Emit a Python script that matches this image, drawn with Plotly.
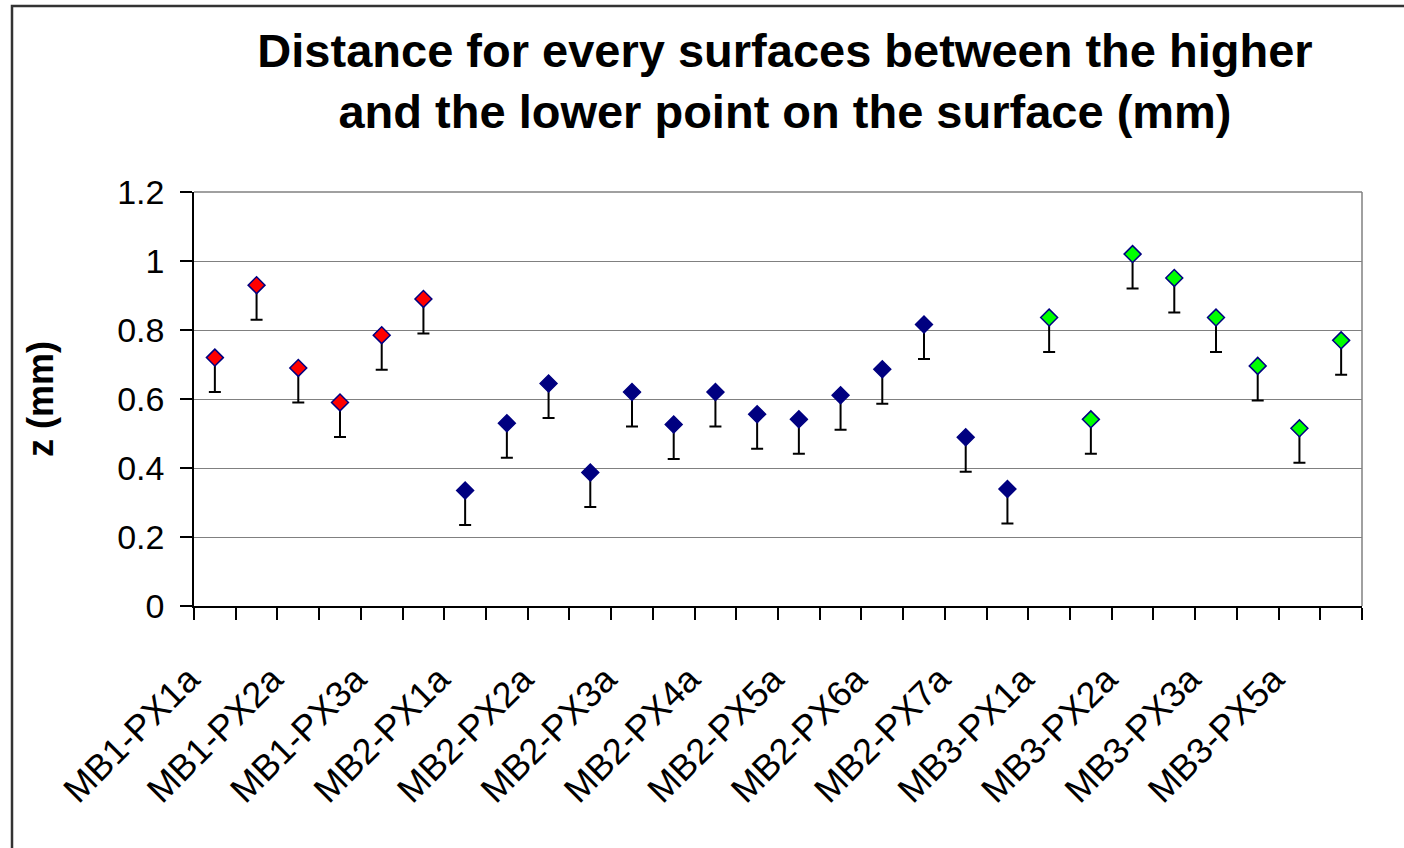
import plotly.graph_objects as go

# ---- data ----
mb1_categories = ["MB1-PX1a", "MB1-PX1b", "MB1-PX2a", "MB1-PX2b", "MB1-PX3a", "MB1-PX3b"]
mb2_categories = ["MB2-PX1a", "MB2-PX1b", "MB2-PX2a", "MB2-PX2b", "MB2-PX3a", "MB2-PX3b",
                  "MB2-PX4a", "MB2-PX4b", "MB2-PX5a", "MB2-PX5b", "MB2-PX6a", "MB2-PX6b",
                  "MB2-PX7a", "MB2-PX7b"]
mb3_categories = ["MB3-PX1a", "MB3-PX1b", "MB3-PX2a", "MB3-PX2b", "MB3-PX3a", "MB3-PX3b",
                  "MB3-PX5a", "MB3-PX5b"]

mb1_values = [0.72, 0.93, 0.69, 0.59, 0.785, 0.89]
mb2_values = [0.335, 0.53, 0.645, 0.387, 0.62, 0.526, 0.62, 0.556, 0.541, 0.611,
              0.686, 0.816, 0.489, 0.339]
mb3_values = [0.836, 0.541, 1.02, 0.951, 0.836, 0.696, 0.515, 0.77]

error_minus = 0.1

all_categories = mb1_categories + mb2_categories + mb3_categories
tick_labels = [c if i % 2 == 0 else "" for i, c in enumerate(all_categories)]
y_ticks = [0, 0.2, 0.4, 0.6, 0.8, 1, 1.2]

FONT = "Liberation Sans, Arial, sans-serif"

fig = go.Figure()

def add_series(cats, vals, fill):
    fig.add_trace(go.Scatter(
        x=cats, y=vals, mode="markers",
        marker=dict(symbol="diamond", size=13, color=fill,
                    line=dict(color="#000080", width=1.5)),
        error_y=dict(type="data", symmetric=False,
                     array=[0] * len(vals), arrayminus=[error_minus] * len(vals),
                     color="black", thickness=2, width=6),
        showlegend=False,
    ))

add_series(mb1_categories, mb1_values, "#FF0000")
add_series(mb2_categories, mb2_values, "#000080")
add_series(mb3_categories, mb3_values, "#00FF00")

W, H = 1404, 848
L, R, T, B = 194, 42, 192, 242
pw, ph = W - L - R, H - T - B

def px_x(px):
    return (px - L) / pw

def px_y(py):
    return (H - B - py) / ph

fig.update_layout(
    width=W, height=H,
    margin=dict(l=L, r=R, t=T, b=B, autoexpand=False),
    paper_bgcolor="white", plot_bgcolor="white",
    font=dict(family=FONT, color="black"),
    title=dict(
        text="<b>Distance for every surfaces between the higher<br>and the lower point on the surface (mm)</b>",
        font=dict(size=47, family=FONT, color="black"),
        x=785 / W, xref="container", xanchor="center",
        y=1 - 67 / H, yref="container", yanchor="top",
    ),
    xaxis=dict(
        type="category", categoryorder="array", categoryarray=all_categories,
        range=[-0.5, len(all_categories) - 0.5],
        tickmode="array", tickvals=all_categories, ticktext=tick_labels,
        tickson="boundaries", ticks="outside", ticklen=12, tickwidth=1.5, tickcolor="black",
        tickangle=-45, tickfont=dict(size=36, family=FONT, color="black"),
        ticklabelstandoff=36, ticklabelshift=-26,
        showgrid=False, showline=True, linecolor="black", linewidth=1.5,
        automargin=False, zeroline=False,
    ),
    yaxis=dict(
        range=[0, 1.2], tickmode="array", tickvals=y_ticks,
        ticks="outside", ticklen=12, tickwidth=1.5, tickcolor="black",
        tickfont=dict(size=34, family=FONT, color="black"),
        ticklabelstandoff=9,
        showgrid=True, gridcolor="#808080", gridwidth=1,
        showline=True, linecolor="black", linewidth=1.5, zeroline=False,
        automargin=False,
        title=dict(text="<b>z (mm)</b>", font=dict(size=36, family=FONT, color="black"),
                   standoff=53),
    ),
    shapes=[
        # outer chart border (right and bottom edges lie outside the picture)
        dict(type="rect", xref="paper", yref="paper",
             x0=px_x(12), x1=px_x(1600), y0=px_y(1000), y1=px_y(6),
             line=dict(color="#333333", width=2.5), fillcolor="rgba(0,0,0,0)", layer="below"),
        # plot area top & right border
        dict(type="line", xref="paper", yref="paper", x0=0, x1=1, y0=1, y1=1,
             line=dict(color="#808080", width=1.5)),
        dict(type="line", xref="paper", yref="paper", x0=1, x1=1, y0=0, y1=1,
             line=dict(color="#808080", width=1.5)),
    ],
)

fig.write_html("out.html", config={"displayModeBar": False},
               post_script="document.body.style.margin='0px';document.body.style.overflow='hidden';")
